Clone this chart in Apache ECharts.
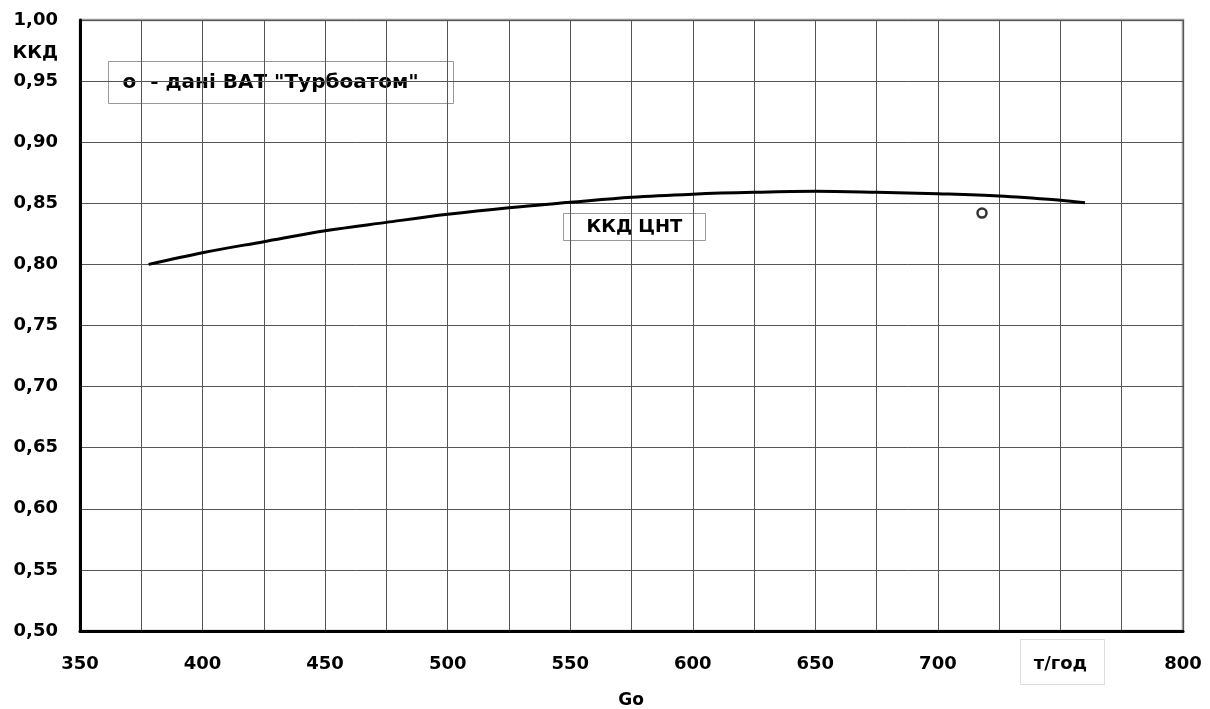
<!DOCTYPE html>
<html>
<head>
<meta charset="utf-8">
<script src="https://cdn.jsdelivr.net/npm/echarts@6/dist/echarts.min.js"></script>
<style>
html,body{margin:0;padding:0;background:#fff;}
#chart{width:1210px;height:709px;}
</style>
</head>
<body>
<div id="chart"></div>
<script>
// Curve "ККД ЦНТ": [Go (т/год), ККД]
const curveGo  = [378, 400, 425, 450, 475, 500, 525, 550, 575, 600, 625, 650, 675, 700, 725, 750, 760];
const curveEff = [0.800, 0.8096, 0.8186, 0.8275, 0.8344, 0.841, 0.8464, 0.8508, 0.855, 0.8575, 0.859, 0.8598, 0.859, 0.8578, 0.856, 0.8525, 0.8505];
// Data point "ВАТ Турбоатом"
const pointGo  = [718];
const pointEff = [0.842];
const xMin = 350, xMax = 800, xStep = 25;
const yMin = 0.50, yMax = 1.00, yStep = 0.05;
const unitTick = 750;

const FONT = 'DejaVu Sans';
const chart = echarts.init(document.getElementById('chart'));
chart.setOption({
  animation: false,
  backgroundColor: '#fff',
  grid: {left: 80, right: 27, top: 20, bottom: 78, show: true, borderColor: '#999', borderWidth: 2.5},
  xAxis: {
    type: 'value', min: xMin, max: xMax, interval: xStep,
    axisLine: {show: true, onZero: false, lineStyle: {color: '#000', width: 3}},
    axisTick: {show: false},
    splitLine: {show: true, lineStyle: {color: '#555', width: 1}},
    axisLabel: {
      margin: 24, fontFamily: FONT, fontWeight: 'bold', fontSize: 18, color: '#000',
      formatter: function (v) {
        if (v === unitTick) return 'т/год';
        return (v % 50 === 0) ? String(v) : '';
      }
    }
  },
  yAxis: {
    type: 'value', min: yMin, max: yMax, interval: yStep,
    axisLine: {show: true, onZero: false, lineStyle: {color: '#000', width: 3}},
    axisTick: {show: false},
    splitLine: {show: true, lineStyle: {color: '#555', width: 1}},
    axisLabel: {
      margin: 22, fontFamily: FONT, fontWeight: 'bold', fontSize: 18, color: '#000',
      formatter: function (v) { return v.toFixed(2).replace('.', ','); }
    }
  },
  series: [
    {
      type: 'line', smooth: 0.35, symbol: 'none',
      data: curveGo.map((g, i) => [g, curveEff[i]]),
      lineStyle: {color: '#000', width: 3}
    },
    {
      type: 'scatter', symbol: 'circle', symbolSize: 9,
      data: pointGo.map((g, i) => [g, pointEff[i]]),
      itemStyle: {color: '#fff', borderColor: '#000', borderWidth: 2.5}
    }
  ],
  graphic: [
    {type: 'rect', left: 1018, top: 637, z: 10,
     shape: {x: 0, y: 0, width: 84, height: 45},
     style: {fill: 'none', stroke: '#ddd', lineWidth: 1}},
    {type: 'text', x: 631, y: 692, z: 10,
     style: {text: 'Go', font: 'bold 17px "DejaVu Sans"', fill: '#000', textAlign: 'center', textVerticalAlign: 'top'}},
    {type: 'text', right: 1210 - 58, top: 44, z: 10,
     style: {text: 'ККД', font: 'bold 18px "DejaVu Sans"', fill: '#000', textAlign: 'right'}},
    {type: 'group', left: 108, top: 61, z: 10, children: [
      {type: 'rect', shape: {x: 0, y: 0, width: 345, height: 42},
       style: {fill: '#fff', stroke: '#999', lineWidth: 1}},
      {type: 'text', x: 14, y: 21,
       style: {text: 'o  - дані ВАТ "Турбоатом"', font: 'bold 20px "DejaVu Sans"', fill: '#000',
               textAlign: 'left', textVerticalAlign: 'middle'}}
    ]},
    {type: 'group', left: 563, top: 213, z: 10, children: [
      {type: 'rect', shape: {x: 0, y: 0, width: 142, height: 27},
       style: {fill: '#fff', stroke: '#999', lineWidth: 1}},
      {type: 'text', x: 71, y: 14,
       style: {text: 'ККД ЦНТ', font: 'bold 18px "DejaVu Sans"', fill: '#000',
               textAlign: 'center', textVerticalAlign: 'middle'}}
    ]}
  ]
});
</script>
</body>
</html>
